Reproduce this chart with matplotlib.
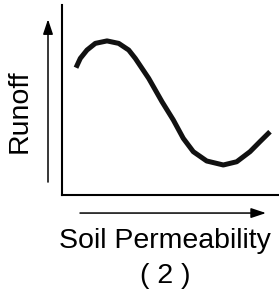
import matplotlib
matplotlib.use("Agg")
import matplotlib.pyplot as plt

# Curve data (soil permeability vs runoff, arbitrary units)
permeability = [0.645, 0.843, 1.152, 1.535, 2.074, 2.613, 3.074, 3.378, 3.995,
                4.608, 5.129, 5.590, 6.051, 6.668, 7.433, 8.051, 8.664, 9.124,
                9.585]
runoff = [6.70, 7.19, 7.63, 7.98, 8.11, 7.98, 7.63, 7.19, 6.14,
          4.91, 3.95, 2.98, 2.28, 1.79, 1.58, 1.75, 2.28, 2.81,
          3.33]
x_label = "Soil Permeability"
y_label = "Runoff"
caption = "( 2 )"

plt.rcParams['font.family'] = ['Liberation Sans', 'DejaVu Sans']

fig = plt.figure(figsize=(2.79, 2.98), dpi=100)
ax = fig.add_axes([62/279, 1-195/298, 217/279, 190/298])
ax.plot(permeability, runoff, color='#111111', lw=3.6, solid_capstyle='butt',
        solid_joinstyle='round')
ax.set_xlim(0, 10)
ax.set_ylim(0, 10)
ax.set_xticks([])
ax.set_yticks([])
for s in ['top', 'right']:
    ax.spines[s].set_visible(False)
for s in ['left', 'bottom']:
    ax.spines[s].set_linewidth(1.5)
ax.patch.set_visible(False)

arrow = dict(arrowstyle='-|>,head_length=0.9,head_width=0.3', color='black',
             lw=1.1, shrinkA=0, shrinkB=0)
ax.annotate('', xy=(-0.0645, 0.925), xytext=(-0.0645, 0.068),
            xycoords='axes fraction', textcoords='axes fraction',
            arrowprops=arrow, annotation_clip=False)
ax.annotate('', xy=(0.94, -0.095), xytext=(0.083, -0.095),
            xycoords='axes fraction', textcoords='axes fraction',
            arrowprops=arrow, annotation_clip=False)

fig.text(20/279, 1-111/298, y_label, rotation=90, fontsize=20.5,
         ha='center', va='center')
fig.text(165/279, 1-241/298, x_label, fontsize=20.5, ha='center', va='center')
fig.text(165/279, 1-276/298, caption, fontsize=20.5, ha='center', va='center')

fig.savefig('out.png', dpi=100)
